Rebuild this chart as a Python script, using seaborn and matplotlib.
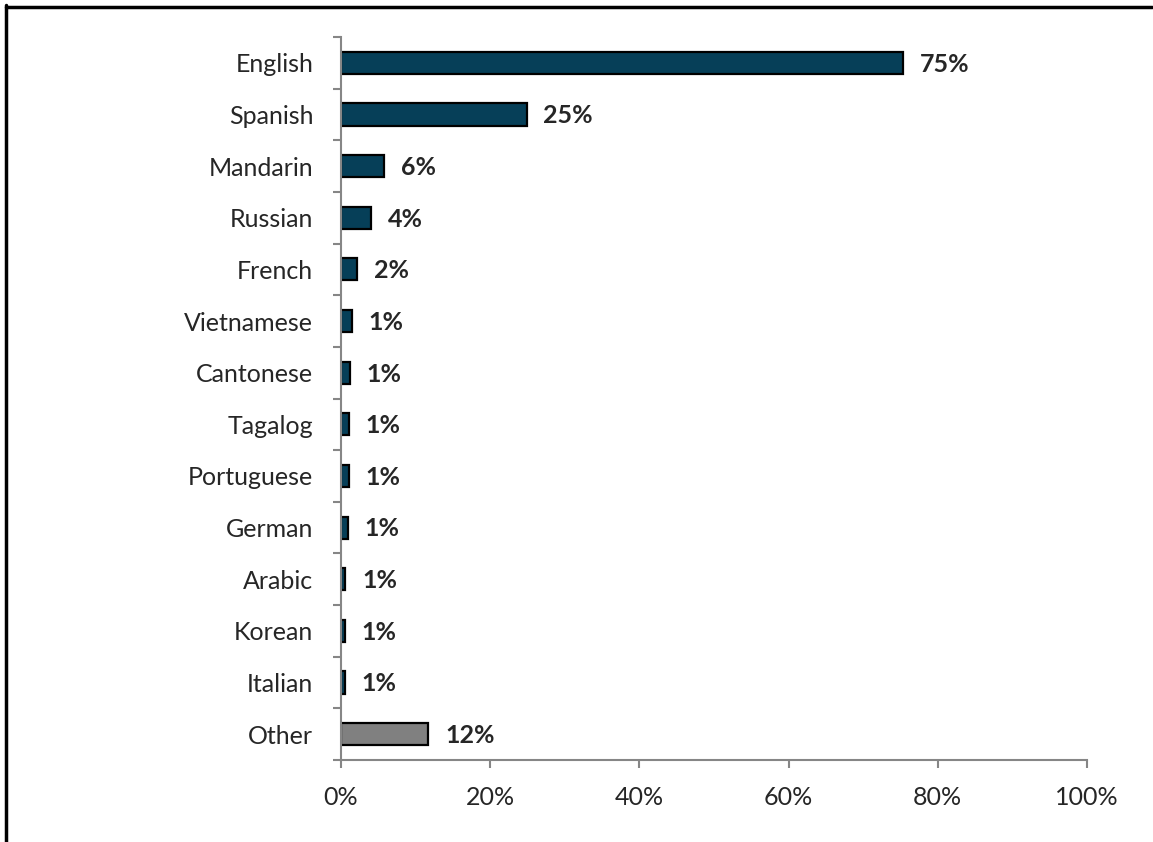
import matplotlib
matplotlib.use("Agg")
import matplotlib.pyplot as plt
import seaborn as sns
import pandas as pd
from matplotlib.lines import Line2D
from matplotlib.ticker import FixedLocator, PercentFormatter

languages = ["English", "Spanish", "Mandarin", "Russian", "French", "Vietnamese",
             "Cantonese", "Tagalog", "Portuguese", "German", "Arabic", "Korean",
             "Italian", "Other"]
shares = [75.4, 24.9, 5.8, 4.0, 2.2, 1.5, 1.2, 1.1, 1.1, 0.9, 0.6, 0.5, 0.5, 11.7]
share_labels = ["75%", "25%", "6%", "4%", "2%", "1%", "1%", "1%", "1%", "1%",
                "1%", "1%", "1%", "12%"]
bar_colors = ["#063F58"] * 13 + ["#808080"]

df = pd.DataFrame({"language": languages, "share": shares})

sns.set_style("white")
plt.rcParams["font.family"] = ["Lato", "DejaVu Sans"]

fig = plt.figure(figsize=(11.53, 8.42), dpi=100)
ax = fig.add_axes([341 / 1153, 1 - 760 / 842, 746 / 1153, 723 / 842])

sns.barplot(data=df, x="share", y="language", hue="language",
            palette=dict(zip(languages, bar_colors)), legend=False,
            orient="h", width=0.43, edgecolor="black", linewidth=1.6,
            saturation=1, ax=ax)

for i, (v, lab) in enumerate(zip(shares, share_labels)):
    ax.annotate(lab, (v, i), xytext=(12, -1), textcoords="offset points",
                ha="left", va="center", fontsize=18, fontweight="bold")

ax.set_xlim(0, 100)
ax.set_ylim(13.5, -0.5)
ax.set_xlabel("")
ax.set_ylabel("")
ax.xaxis.set_major_locator(FixedLocator([0, 20, 40, 60, 80, 100]))
ax.xaxis.set_major_formatter(PercentFormatter(decimals=0))
ax.yaxis.set_minor_locator(FixedLocator([i - 0.5 for i in range(15)]))

for s in ["top", "right"]:
    ax.spines[s].set_visible(False)
for s in ["left", "bottom"]:
    ax.spines[s].set_color("#868686")
    ax.spines[s].set_linewidth(1.5)

ax.tick_params(axis="x", which="major", direction="out", length=6, width=1.5,
               color="#868686", labelsize=18, pad=13, bottom=True)
ax.tick_params(axis="y", which="major", length=0, labelsize=18, pad=20)
ax.tick_params(axis="y", which="minor", direction="out", length=6, width=1.5,
               color="#868686", left=True)

# frame lines along top and left edge
fig.add_artist(Line2D([6 / 1153, 1152 / 1153], [1 - 6.5 / 842, 1 - 6.5 / 842],
                      color="black", linewidth=2.5, transform=fig.transFigure))
fig.add_artist(Line2D([6 / 1153, 6 / 1153], [0, 1 - 5 / 842],
                      color="black", linewidth=2.5, transform=fig.transFigure))

fig.savefig("out.png", dpi=100)
plt.close(fig)
